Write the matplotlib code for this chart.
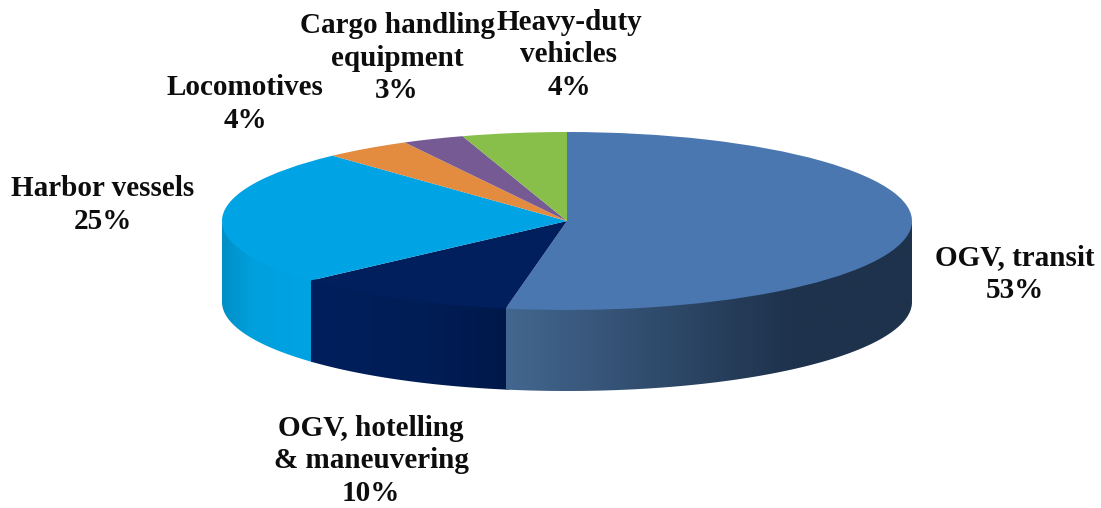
import numpy as np
import matplotlib
matplotlib.use("Agg")
import matplotlib.pyplot as plt
from matplotlib.colors import LinearSegmentedColormap
from matplotlib.patches import Polygon

categories = ["OGV, transit", "OGV, hotelling\n& maneuvering", "Harbor vessels",
              "Locomotives", "Cargo handling\nequipment", "Heavy-duty\nvehicles"]
printed_pct = [53, 10, 25, 4, 3, 4]
drawn_shares = [52.9, 10.5, 24.8, 4.1, 2.9, 4.9]

# Styles
top_colors = ["#4A77AF", "#001F5C", "#00A3E3", "#E38B3F", "#755A93", "#87BF4A"]
W, H = 1101, 508
CX, CY, RX, RY, DEPTH = 567, 221, 345, 89, 81

plt.rcParams["font.family"] = ["Liberation Serif", "DejaVu Serif"]
fig = plt.figure(figsize=(W / 100, H / 100), dpi=100, facecolor="white")
ax = fig.add_axes([0, 0, 1, 1])

ax.pie(drawn_shares, colors=top_colors, startangle=90, counterclock=False,
       radius=1, wedgeprops={"linewidth": 0, "zorder": 5})
ax.set_aspect("auto")
ax.axis("off")

depth = DEPTH / RY
overlap = 0.03
edges = np.concatenate([[0], np.cumsum(drawn_shares)]) / np.sum(drawn_shares) * 360

wall_ramps = {
    2: [(0.0, "#008FC6"), (0.35, "#00A0DE"), (1.0, "#00A3E3")],
    1: [(0.0, "#001F5C"), (0.6, "#001D55"), (1.0, "#001848")],
    0: [(0.0, "#43678F"), (0.70, "#1E324C"), (1.0, "#1E324C")],
}
for i, ramp in wall_ramps.items():
    # each wall slides a little under its clockwise neighbour, so no seam shows
    a0 = max(edges[i] - (0.6 if i else 0), 90)
    a1 = min(edges[i + 1], 270)
    t = np.radians(np.linspace(a0, a1, 200))
    xs, ys = np.sin(t), np.cos(t)
    verts = np.column_stack([np.r_[xs, xs[::-1]],
                             np.r_[ys + overlap, ys[::-1] - depth]])
    clip = Polygon(verts, closed=True, transform=ax.transData,
                   facecolor="none", edgecolor="none")
    ax.add_patch(clip)
    cmap = LinearSegmentedColormap.from_list(f"wall{i}", ramp)
    grad = np.linspace(0, 1, 256)[None, :]
    im = ax.imshow(grad, cmap=cmap, extent=(xs.min(), xs.max(), -1.2 - depth, 1.2),
                   aspect="auto", zorder=2 + (2 - i) * 0.1, interpolation="bilinear")
    im.set_clip_path(clip)

ax.set_xlim((0 - CX) / RX, (W - CX) / RX)
ax.set_ylim((CY - H) / RY, (CY - 0) / RY)

# Label block centres in pixels
label_xy = [(1015, 274), (371, 461), (103, 205), (245, 104), (397, 58), (569, 55)]
for name, pct, (lx, ly) in zip(categories, printed_pct, label_xy):
    fig.text(lx / W, 1 - ly / H, f"{name}\n{pct}%", ha="center", va="center",
             fontsize=21, fontweight="bold", color="#0D0D0D",
             linespacing=1.27, multialignment="center")

fig.savefig("out.png", dpi=100)
